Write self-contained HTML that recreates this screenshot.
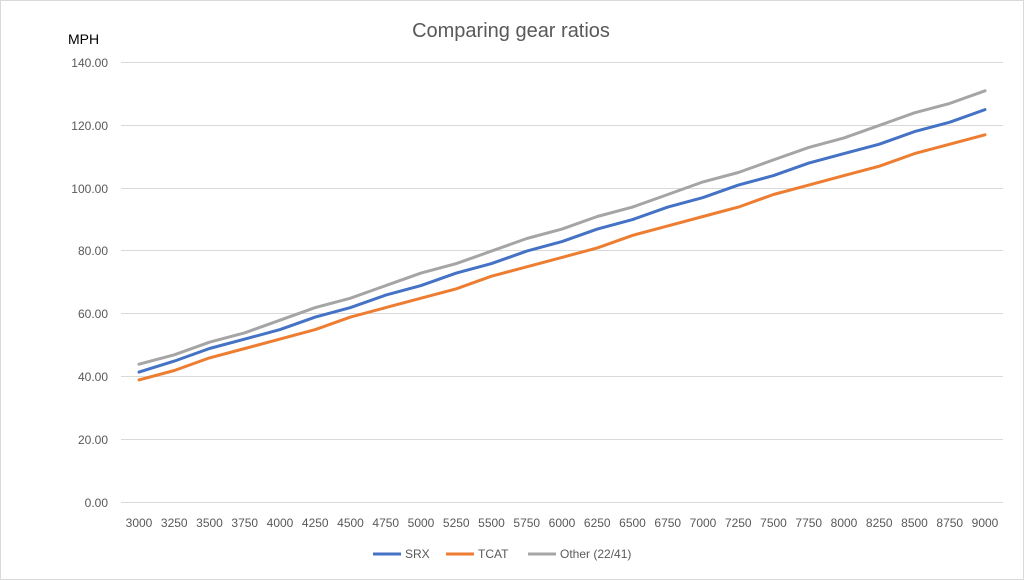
<!DOCTYPE html>
<html><head><meta charset="utf-8"><style>
body{margin:0;background:#fff;}
svg{display:block;font-family:"Liberation Sans",sans-serif;}
</style></head><body>
<svg width="1024" height="580" xmlns="http://www.w3.org/2000/svg">
<rect x="0.5" y="0.5" width="1023" height="579" fill="#fff" stroke="#d9d9d9"/>
<text x="511" y="37" text-anchor="middle" font-size="20" fill="#595959">Comparing gear ratios</text>
<text x="68" y="44" font-size="14" fill="#000">MPH</text>
<g stroke="#d9d9d9" stroke-width="1">
<line x1="121" x2="1003" y1="62.5" y2="62.5"/>
<line x1="121" x2="1003" y1="125.5" y2="125.5"/>
<line x1="121" x2="1003" y1="188.5" y2="188.5"/>
<line x1="121" x2="1003" y1="250.5" y2="250.5"/>
<line x1="121" x2="1003" y1="313.5" y2="313.5"/>
<line x1="121" x2="1003" y1="376.5" y2="376.5"/>
<line x1="121" x2="1003" y1="439.5" y2="439.5"/>
<line x1="121" x2="1003" y1="502.5" y2="502.5"/>
</g>
<g font-size="12" fill="#595959" text-anchor="end">
<text x="108" y="67">140.00</text><text x="108" y="130">120.00</text><text x="108" y="193">100.00</text>
<text x="108" y="255">80.00</text><text x="108" y="318">60.00</text><text x="108" y="381">40.00</text>
<text x="108" y="444">20.00</text><text x="108" y="507">0.00</text>
</g>
<g font-size="12" fill="#595959" text-anchor="middle" id="xl"></g>
<g fill="none" stroke-width="3" stroke-linejoin="round" stroke-linecap="round">
<polyline id="o" stroke="#a5a5a5"/>
<polyline id="t" stroke="#ed7d31"/>
<polyline id="s" stroke="#4472c4"/>
</g>
<g font-size="12" fill="#595959">
<line x1="373" x2="401" y1="554" y2="554" stroke="#4472c4" stroke-width="3"/><text x="405" y="558">SRX</text>
<line x1="446" x2="474" y1="554" y2="554" stroke="#ed7d31" stroke-width="3"/><text x="478" y="558">TCAT</text>
<line x1="528" x2="556" y1="554" y2="554" stroke="#a5a5a5" stroke-width="3"/><text x="560" y="558">Other (22/41)</text>
</g>
<script>
var S=[41.5,45,49,52,55,59,62,66,69,73,76,80,83,87,90,94,97,101,104,108,111,114,118,121,125];
var T=[39,42,46,49,52,55,59,62,65,68,72,75,78,81,85,88,91,94,98,101,104,107,111,114,117];
var O=[44,47,51,54,58,62,65,69,73,76,80,84,87,91,94,98,102,105,109,113,116,120,124,127,131];
function X(i){return 139+i*35.25;}function Y(v){return 502.5-v*3.1429;}
function p(a){return a.map(function(v,i){return X(i).toFixed(1)+","+Y(v).toFixed(1)}).join(" ");}
document.getElementById("s").setAttribute("points",p(S));
document.getElementById("t").setAttribute("points",p(T));
document.getElementById("o").setAttribute("points",p(O));
var g=document.getElementById("xl");
for(var i=0;i<25;i++){var t=document.createElementNS("http://www.w3.org/2000/svg","text");t.setAttribute("x",X(i));t.setAttribute("y",527);t.textContent=3000+i*250;g.appendChild(t);}
</script>
</svg>
</body></html>
